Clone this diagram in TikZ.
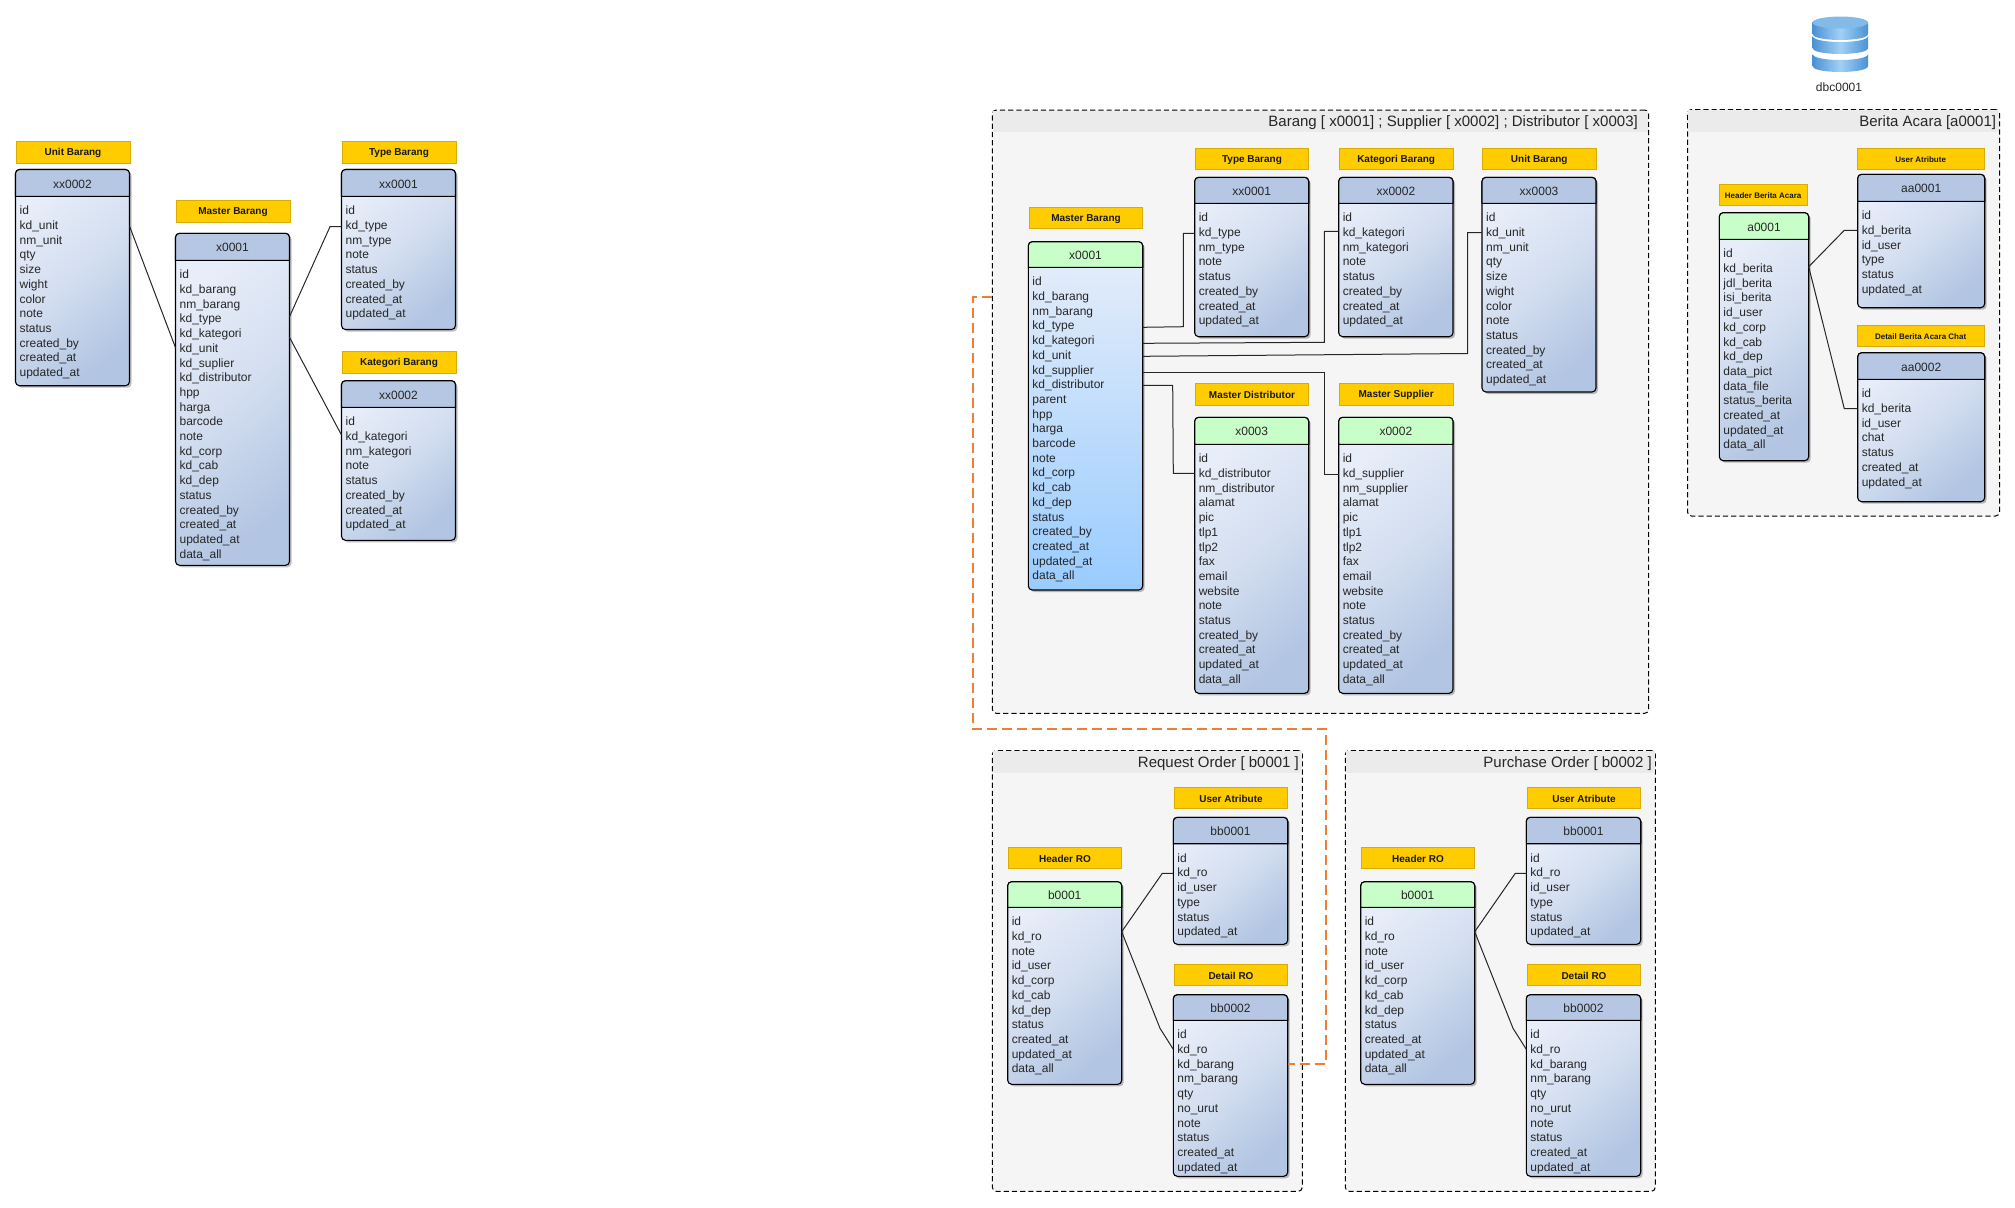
\documentclass[tikz,border=0pt]{standalone}
\usepackage{fontspec}
\setmainfont{Liberation Sans}
\usepackage{xcolor}
\usetikzlibrary{fit,shadows}

\definecolor{capyellow}{HTML}{FFCC00}
\definecolor{headblue}{HTML}{B5C7E3}
\definecolor{headgreen}{HTML}{C8FFC8}
\definecolor{bodylight}{HTML}{E8EEF9}
\definecolor{bodymid}{HTML}{D3DEF0}
\definecolor{bodydark}{HTML}{B2C5E2}
\definecolor{bodysky}{HTML}{99CCFF}
\definecolor{relorange}{HTML}{EC7F32}
\definecolor{dbside}{HTML}{4A92D6}
\definecolor{dbmid}{HTML}{A2D0F4}
\definecolor{dbtop}{HTML}{84BAE8}

\tikzset{
  tblbody/.style={draw=black,line width=.55pt,rounded corners=2pt,inner sep=0pt,outer sep=0pt,
    drop shadow={shadow xshift=1pt,shadow yshift=-1pt,opacity=.25,fill=black}},
  blue body/.style={top color=bodylight,bottom color=bodydark,middle color=bodymid,shading angle=40},
  green body/.style={blue body},
  sky body/.style={top color=bodylight,bottom color=bodysky},
  blue head/.style={draw=black,line width=.55pt,fill=headblue},
  green head/.style={draw=black,line width=.55pt,fill=headgreen},
  sky head/.style={green head},
  tbltitle/.style={inner sep=0pt,text=black!85,font=\fontsize{6}{7}\selectfont},
  tblrows/.style={inner sep=0pt,anchor=north west,align=left,text=black!85,font=\fontsize{6}{7.35}\selectfont},
  capbar/.style={fill=capyellow,draw=capyellow!85!black,line width=.3pt,inner sep=0pt,outer sep=0pt},
  captext/.style={inner sep=0pt,yshift=-.4pt,text=black!90,font=\fontsize{5}{6}\selectfont\bfseries},
  small captext/.style={captext,font=\fontsize{4}{5}\selectfont\bfseries},
  grpbox/.style={draw=black,fill=black!4,line width=.5pt,dash pattern=on 2.6pt off 1.5pt,
    rounded corners=2pt,inner sep=0pt,outer sep=0pt},
  grptitle/.style={inner sep=0pt,anchor=east,text=black!85,font=\fontsize{7.5}{9}\selectfont},
  relasi/.style={draw=black!85,line width=.5pt},
  relasi lintas/.style={draw=relorange,line width=1.1pt,dash pattern=on 5pt off 2.5pt},
}

% name, x1, x2, ytop, ydiv, ybottom, title, style, rows
\newcommand{\tabel}[9]{
  \node (#1) [tblbody,#8 body,fit={(#2,#4) (#3,#6)}] {};
  \draw[#8 head] (#2,#5) [rounded corners=2pt] -- (#2,#4) -- (#3,#4) [sharp corners] -- (#3,#5) -- cycle;
  \node (#1T) [tbltitle] at ({(#2+#3)/2},{(#4+#5)/2+1}) {#7};
  \node (#1R) [tblrows] at ({#2+3.7},{#5+9.4}) {#9};
}
% [text style], name, x1, x2, y1, y2, text
\newcommand{\tabelcap}[7][captext]{
  \node (#2) [capbar,fit={(#3,#5) (#4,#6)}] {};
  \node (#2T) [#1] at (#2.center) {#7};
}
% [title gap], name, x1, x2, y1, y2, title
\newcommand{\grup}[7][3]{
  \node (#2) [grpbox,fit={(#3,#5) (#4,#6)}] {};
  \fill[black!8] ({#3+.8},{#5+.8}) rectangle ({#4-.8},{#5+22});
  \node (#2T) [grptitle] at ({#4-#1},{#5+13}) {#7};
}

\begin{document}
\begin{tikzpicture}[x=.5pt,y=-.5pt]
  \useasboundingbox (0,0) rectangle (2015,1207);

  % barang tanpa grup
  \tabelcap{unitLC}{16}{130}{141}{163}{Unit Barang}
  \tabelcap{typeLC}{342}{456}{141}{163}{Type Barang}
  \tabelcap{masterLC}{176}{290}{200}{222}{Master Barang}
  \tabelcap{kategoriLC}{342}{456}{351.3}{373}{Kategori Barang}
  \tabel{unitL}{15.5}{129.5}{169.5}{196.3}{385.7}{xx0002}{blue}{id\\kd\_unit\\nm\_unit\\qty\\size\\wight\\color\\note\\status\\created\_by\\created\_at\\updated\_at}
  \tabel{masterL}{175.5}{289.5}{233.3}{260.3}{565.3}{x0001}{blue}{id\\kd\_barang\\nm\_barang\\kd\_type\\kd\_kategori\\kd\_unit\\kd\_suplier\\kd\_distributor\\hpp\\harga\\barcode\\note\\kd\_corp\\kd\_cab\\kd\_dep\\status\\created\_by\\created\_at\\updated\_at\\data\_all}
  \tabel{typeL}{341.5}{455.5}{169.5}{196.3}{329.5}{xx0001}{blue}{id\\kd\_type\\nm\_type\\note\\status\\created\_by\\created\_at\\updated\_at}
  \tabel{kategoriL}{341.5}{455.5}{380.7}{407.3}{540.3}{xx0002}{blue}{id\\kd\_kategori\\nm\_kategori\\note\\status\\created\_by\\created\_at\\updated\_at}
  \draw[relasi] (unitL.east |- 0,226) -- (masterL.west |- 0,347.7);
  \draw[relasi] (masterL.east |- 0,316.7) -- (330,226.7) -- (typeL.west |- 0,226.7);
  \draw[relasi] (masterL.east |- 0,337.3) -- (kategoriL.west |- 0,435);

  % database
  \foreach \ytop in {54,36,22} {
    \path[left color=dbside,right color=dbside,middle color=dbmid]
      (1812.7,\ytop) -- (1812.7,\ytop+12) .. controls (1812.7,\ytop+20) and (1868,\ytop+20) .. (1868,\ytop+12)
      -- (1868,\ytop) .. controls (1868,\ytop+8) and (1812.7,\ytop+8) .. (1812.7,\ytop) -- cycle;
  }
  \fill[dbtop] (1840.3,22.5) ellipse (27.7 and 6);
  \node (dbc) [tbltitle] at (1839,87.3) {dbc0001};

  % barang, supplier, distributor
  \grup[10.5]{barang}{992.3}{1648.7}{110}{713.3}{Barang [ x0001] ; Supplier [ x0002] ; Distributor [ x0003]}
  \tabelcap{masterBC}{1029.3}{1142.7}{207.3}{228.7}{Master Barang}
  \tabelcap{typeBC}{1195.3}{1308.7}{148.3}{169.7}{Type Barang}
  \tabelcap{kategoriBC}{1339.3}{1453}{148.3}{169.7}{Kategori Barang}
  \tabelcap{unitBC}{1482.5}{1596}{148.3}{169.7}{Unit Barang}
  \tabelcap{distBC}{1195.3}{1308.7}{383.7}{405}{Master Distributor}
  \tabelcap{supBC}{1339.3}{1453}{383.7}{405}{Master Supplier}
  \tabel{masterB}{1028.3}{1142.7}{241.7}{267.3}{590}{x0001}{sky}{id\\kd\_barang\\nm\_barang\\kd\_type\\kd\_kategori\\kd\_unit\\kd\_supplier\\kd\_distributor\\parent\\hpp\\harga\\barcode\\note\\kd\_corp\\kd\_cab\\kd\_dep\\status\\created\_by\\created\_at\\updated\_at\\data\_all}
  \tabel{typeB}{1194.7}{1308.7}{177.3}{203.3}{336.7}{xx0001}{blue}{id\\kd\_type\\nm\_type\\note\\status\\created\_by\\created\_at\\updated\_at}
  \tabel{kategoriB}{1338.7}{1453}{177.3}{203.3}{336.7}{xx0002}{blue}{id\\kd\_kategori\\nm\_kategori\\note\\status\\created\_by\\created\_at\\updated\_at}
  \tabel{unitB}{1482}{1596}{177.3}{203.3}{392}{xx0003}{blue}{id\\kd\_unit\\nm\_unit\\qty\\size\\wight\\color\\note\\status\\created\_by\\created\_at\\updated\_at}
  \tabel{distB}{1194.7}{1308.7}{417.3}{444.3}{693.3}{x0003}{green}{id\\kd\_distributor\\nm\_distributor\\alamat\\pic\\tlp1\\tlp2\\fax\\email\\website\\note\\status\\created\_by\\created\_at\\updated\_at\\data\_all}
  \tabel{supB}{1338.7}{1453}{417.3}{444.3}{693.3}{x0002}{green}{id\\kd\_supplier\\nm\_supplier\\alamat\\pic\\tlp1\\tlp2\\fax\\email\\website\\note\\status\\created\_by\\created\_at\\updated\_at\\data\_all}
  \draw[relasi] (masterB.east |- 0,327.3) -- (1183.3,326.7) -- (1183.3,233.3) -- (typeB.west |- 0,233.3);
  \draw[relasi] (masterB.east |- 0,343.3) -- (1324.3,342.3) -- (1324.3,231.3) -- (kategoriB.west |- 0,231.3);
  \draw[relasi] (masterB.east |- 0,356.3) -- (1467.5,353.5) -- (1467.5,232.6) -- (unitB.west |- 0,232.6);
  \draw[relasi] (masterB.east |- 0,372.3) -- (1324.3,372.3) -- (1324.3,474.3) -- (supB.west |- 0,474.3);
  \draw[relasi] (masterB.east |- 0,385.3) -- (1172.7,385.3) -- (1173.3,473.3) -- (distB.west |- 0,473.3);

  % berita acara
  \grup{berita}{1687.5}{1999.5}{109.5}{516}{Berita Acara [a0001]}
  \tabelcap[small captext]{headBAC}{1719.3}{1807}{184.3}{205.3}{Header Berita Acara}
  \tabelcap[small captext]{userBAC}{1857.3}{1984}{148.3}{169.7}{User Atribute}
  \tabelcap[small captext]{chatBAC}{1857.3}{1984}{325.3}{346.7}{Detail Berita Acara Chat}
  \tabel{headBA}{1719.3}{1808.7}{212.7}{239.3}{460.7}{a0001}{green}{id\\kd\_berita\\jdl\_berita\\isi\_berita\\id\_user\\kd\_corp\\kd\_cab\\kd\_dep\\data\_pict\\data\_file\\status\_berita\\created\_at\\updated\_at\\data\_all}
  \tabel{userBA}{1857.7}{1984.7}{174.3}{201.3}{307.7}{aa0001}{blue}{id\\kd\_berita\\id\_user\\type\\status\\updated\_at}
  \tabel{chatBA}{1857.7}{1984.7}{352.7}{379.3}{501.7}{aa0002}{blue}{id\\kd\_berita\\id\_user\\chat\\status\\created\_at\\updated\_at}
  \draw[relasi] (headBA.east |- 0,266.7) -- (1844.3,230.3) -- (userBA.west |- 0,230.3);
  \draw[relasi] (headBA.east |- 0,266.7) -- (1844.3,408.7) -- (chatBA.west |- 0,408.7);

  % request order, purchase order
  \foreach \dx/\kode/\judul in {0/RO/Request Order [ b0001 ],353/PO/Purchase Order [ b0002 ]} {
    \begin{scope}[shift={(\dx,0)}]
      \grup{order\kode}{992.3}{1302.3}{750.5}{1191.3}{\judul}
      \tabelcap{head\kode C}{1008.3}{1121.7}{847}{868.7}{Header RO}
      \tabelcap{user\kode C}{1174.3}{1287.7}{787.3}{808.7}{User Atribute}
      \tabelcap{detail\kode C}{1174.3}{1287.7}{964.3}{985.7}{Detail RO}
      \tabel{head\kode}{1007.7}{1121.7}{881.7}{907.3}{1084.3}{b0001}{green}{id\\kd\_ro\\note\\id\_user\\kd\_corp\\kd\_cab\\kd\_dep\\status\\created\_at\\updated\_at\\data\_all}
      \tabel{user\kode}{1173.3}{1287.7}{817.3}{843.7}{944.3}{bb0001}{blue}{id\\kd\_ro\\id\_user\\type\\status\\updated\_at}
      \tabel{detail\kode}{1173.3}{1287.7}{994.7}{1020.3}{1176.3}{bb0002}{blue}{id\\kd\_ro\\kd\_barang\\nm\_barang\\qty\\no\_urut\\note\\status\\created\_at\\updated\_at}
      \draw[relasi] (head\kode.east |- 0,931.7) -- (1162.3,873.3) -- (user\kode.west |- 0,873.3);
      \draw[relasi] (head\kode.east |- 0,931.7) -- (1160,1028.3) -- (detail\kode.west |- 0,1049.3);
    \end{scope}
  }

  % relasi antar grup
  \draw[relasi lintas] (barang.west |- 0,296.7) -- (973.3,296.7) -- (973.3,729.3) -- (1325.7,729.3) -- (1325.7,1064.3) -- (detailRO.east |- 0,1064.3);
\end{tikzpicture}
\end{document}
